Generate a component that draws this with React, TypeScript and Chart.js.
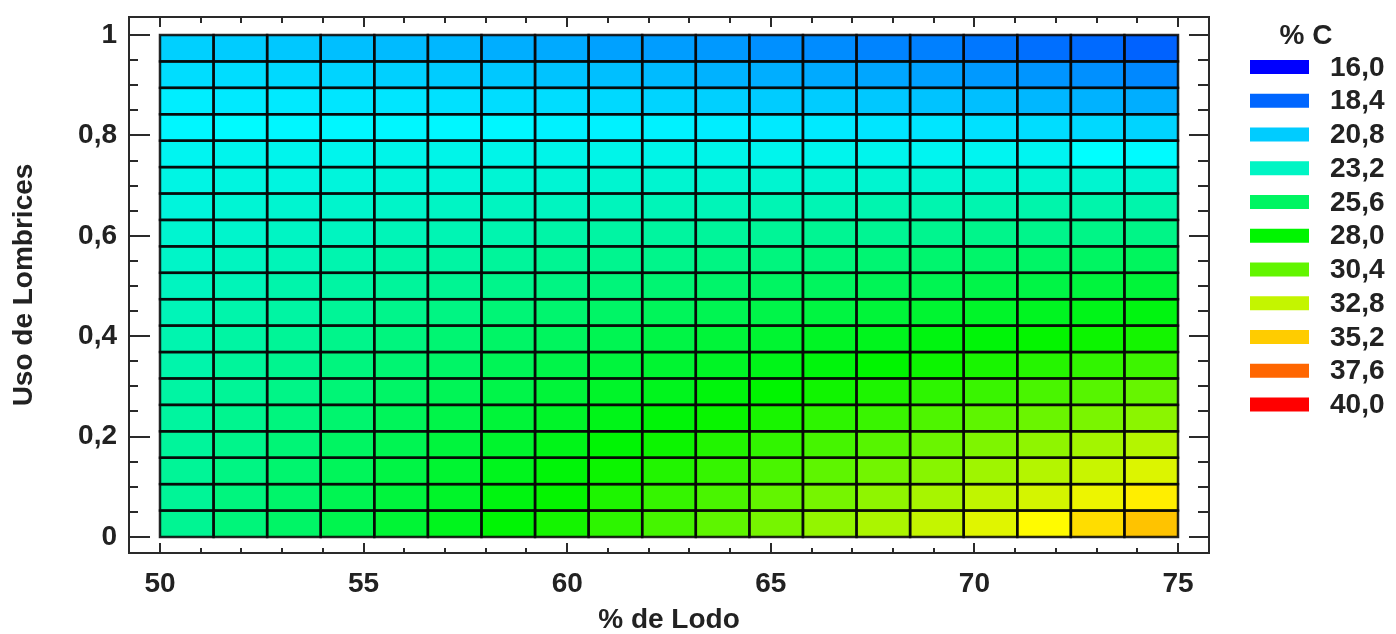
import React, { useEffect, useRef } from 'react';
import { Chart, registerables } from 'chart.js';

Chart.register(...registerables);

// % de Lodo: centres of the 19 columns of the grid (50 .. 75)
const lodoCenters = [50.658, 51.974, 53.289, 54.605, 55.921, 57.237, 58.553, 59.868, 61.184, 62.5, 63.816, 65.132, 66.447, 67.763, 69.079, 70.395, 71.711, 73.026, 74.342];
// Uso de Lombrices: centres of the 19 rows, top row first (0 .. 1)
const lombricesCenters = [0.9737, 0.9211, 0.8684, 0.8158, 0.7632, 0.7105, 0.6579, 0.6053, 0.5526, 0.5, 0.4474, 0.3947, 0.3421, 0.2895, 0.2368, 0.1842, 0.1316, 0.0789, 0.0263];

// %C per cell; one line per row (top row first), one value per column (left to right)
const row00 = [20.9, 20.8, 20.7, 20.5, 20.4, 20.3, 20.1, 20.0, 19.8, 19.7, 19.6, 19.4, 19.3, 19.1, 19.0, 18.8, 18.6, 18.5, 18.3];
const row01 = [21.2, 21.2, 21.1, 21.0, 20.9, 20.8, 20.7, 20.6, 20.5, 20.4, 20.2, 20.1, 20.0, 19.9, 19.8, 19.6, 19.5, 19.4, 19.2];
const row02 = [21.6, 21.5, 21.5, 21.4, 21.4, 21.3, 21.2, 21.2, 21.1, 21.0, 20.9, 20.8, 20.8, 20.7, 20.6, 20.5, 20.3, 20.2, 20.1];
const row03 = [21.8, 21.9, 21.8, 21.8, 21.8, 21.8, 21.8, 21.7, 21.7, 21.7, 21.6, 21.5, 21.5, 21.4, 21.4, 21.3, 21.2, 21.1, 21.0];
const row04 = [22.1, 22.2, 22.2, 22.2, 22.3, 22.3, 22.3, 22.3, 22.3, 22.3, 22.3, 22.2, 22.2, 22.2, 22.1, 22.1, 22.1, 22.0, 21.9];
const row05 = [22.4, 22.5, 22.5, 22.6, 22.7, 22.7, 22.8, 22.8, 22.9, 22.9, 22.9, 22.9, 22.9, 22.9, 22.9, 22.9, 22.9, 22.9, 22.9];
const row06 = [22.6, 22.8, 22.9, 23.0, 23.1, 23.2, 23.3, 23.3, 23.4, 23.5, 23.5, 23.6, 23.6, 23.7, 23.7, 23.7, 23.8, 23.8, 23.8];
const row07 = [22.9, 23.0, 23.2, 23.3, 23.5, 23.6, 23.7, 23.9, 24.0, 24.1, 24.2, 24.3, 24.4, 24.4, 24.5, 24.6, 24.6, 24.7, 24.7];
const row08 = [23.1, 23.3, 23.5, 23.7, 23.9, 24.0, 24.2, 24.4, 24.5, 24.6, 24.8, 24.9, 25.0, 25.2, 25.3, 25.4, 25.5, 25.6, 25.7];
const row09 = [23.3, 23.5, 23.8, 24.0, 24.2, 24.4, 24.6, 24.8, 25.0, 25.2, 25.4, 25.6, 25.7, 25.9, 26.0, 26.2, 26.3, 26.5, 26.6];
const row10 = [23.5, 23.8, 24.0, 24.3, 24.6, 24.8, 25.1, 25.3, 25.5, 25.8, 26.0, 26.2, 26.4, 26.6, 26.8, 27.0, 27.2, 27.4, 27.6];
const row11 = [23.7, 24.0, 24.3, 24.6, 24.9, 25.2, 25.5, 25.7, 26.0, 26.3, 26.6, 26.8, 27.1, 27.3, 27.6, 27.8, 28.1, 28.3, 28.5];
const row12 = [23.8, 24.2, 24.5, 24.9, 25.2, 25.5, 25.9, 26.2, 26.5, 26.8, 27.1, 27.4, 27.7, 28.0, 28.3, 28.6, 28.9, 29.2, 29.5];
const row13 = [24.0, 24.3, 24.7, 25.1, 25.5, 25.9, 26.2, 26.6, 27.0, 27.3, 27.7, 28.0, 28.4, 28.7, 29.1, 29.4, 29.8, 30.1, 30.5];
const row14 = [24.1, 24.5, 24.9, 25.3, 25.8, 26.2, 26.6, 27.0, 27.4, 27.8, 28.2, 28.6, 29.1, 29.4, 29.9, 30.3, 30.6, 31.0, 31.4];
const row15 = [24.2, 24.6, 25.1, 25.6, 26.0, 26.5, 26.9, 27.4, 27.9, 28.3, 28.8, 29.2, 29.7, 30.1, 30.6, 31.1, 31.5, 32.0, 32.4];
const row16 = [24.3, 24.8, 25.3, 25.8, 26.3, 26.8, 27.3, 27.8, 28.3, 28.8, 29.3, 29.8, 30.3, 30.8, 31.3, 31.9, 32.4, 32.9, 33.4];
const row17 = [24.3, 24.9, 25.4, 26.0, 26.5, 27.0, 27.6, 28.1, 28.7, 29.3, 29.8, 30.4, 30.9, 31.5, 32.1, 32.7, 33.2, 33.8, 34.4];
const row18 = [24.4, 25.0, 25.5, 26.1, 26.7, 27.3, 27.9, 28.5, 29.1, 29.7, 30.3, 30.9, 31.6, 32.2, 32.8, 33.5, 34.1, 34.8, 35.4];
const carbonRows = [row00, row01, row02, row03, row04, row05, row06, row07, row08, row09, row10, row11, row12, row13, row14, row15, row16, row17, row18];

// Legend levels of %C
const legendLevels = [16.0, 18.4, 20.8, 23.2, 25.6, 28.0, 30.4, 32.8, 35.2, 37.6, 40.0];
const legendTitle = '% C';

// Axis tick labels
const xTickValues = [50, 55, 60, 65, 70, 75];
const yTickValues = [0, 0.2, 0.4, 0.6, 0.8, 1];

const FONT = "'Liberation Sans', Arial, Helvetica, sans-serif";
const TEXT = '#222222';

const fmtComma = (v: number, digits: number) => v.toFixed(digits).replace('.', ',');

function colorFor(v: number): string {
  const lo = legendLevels[0];
  const hi = legendLevels[legendLevels.length - 1];
  let t = (v - lo) / (hi - lo);
  t = Math.max(0, Math.min(1, t));
  const hue = 240 * (1 - t);
  // greens in the reference are slightly less luminous than pure hues
  const light = hue > 60 && hue < 180 ? 48 : 50;
  return `hsl(${hue.toFixed(1)}, 100%, ${light}%)`;
}

const heatPlugin = {
  id: 'heatCells',
  beforeDatasetsDraw(chart: any) {
    const { ctx, scales } = chart;
    const xs = scales.x;
    const ys = scales.y;
    const hw = (lodoCenters[1] - lodoCenters[0]) / 2;
    const hh = (lombricesCenters[0] - lombricesCenters[1]) / 2;
    ctx.save();
    const rects: number[][] = [];
    carbonRows.forEach((row, r) => {
      row.forEach((v, c) => {
        const l = xs.getPixelForValue(lodoCenters[c] - hw);
        const rr = xs.getPixelForValue(lodoCenters[c] + hw);
        const t = ys.getPixelForValue(lombricesCenters[r] + hh);
        const b = ys.getPixelForValue(lombricesCenters[r] - hh);
        ctx.fillStyle = colorFor(v);
        ctx.fillRect(l, t, rr - l, b - t);
        rects.push([l, t, rr - l, b - t]);
      });
    });
    ctx.strokeStyle = 'rgba(8,8,8,0.88)';
    ctx.lineWidth = 2.5;
    rects.forEach(([l, t, w, h]) => ctx.strokeRect(l, t, w, h));
    ctx.restore();
  },
  afterDraw(chart: any) {
    const { ctx, chartArea, scales } = chart;
    const xs = scales.x;
    const ys = scales.y;
    ctx.save();
    // frame
    ctx.strokeStyle = '#2a2a2a';
    ctx.lineWidth = 2;
    ctx.strokeRect(chartArea.left, chartArea.top, chartArea.right - chartArea.left, chartArea.bottom - chartArea.top);
    // x ticks (bottom and top, pointing inward)
    for (let v = 50; v <= 75; v += 1) {
      const px = Math.round(xs.getPixelForValue(v));
      const major = v % 5 === 0;
      const lenB = major ? 10 : 5;
      const lenT = major ? 10 : 6;
      ctx.beginPath();
      ctx.moveTo(px, chartArea.bottom);
      ctx.lineTo(px, chartArea.bottom - lenB);
      ctx.moveTo(px, chartArea.top);
      ctx.lineTo(px, chartArea.top + lenT);
      ctx.stroke();
    }
    // y ticks (left and right, pointing inward)
    for (let k = 0; k <= 20; k++) {
      const v = k * 0.05;
      const py = Math.round(ys.getPixelForValue(v));
      const major = k % 4 === 0;
      const lenL = major ? 21 : 9;
      const lenR = major ? 20 : 11;
      ctx.beginPath();
      ctx.moveTo(chartArea.left, py);
      ctx.lineTo(chartArea.left + lenL, py);
      ctx.moveTo(chartArea.right, py);
      ctx.lineTo(chartArea.right - lenR, py);
      ctx.stroke();
    }
    // legend
    ctx.fillStyle = TEXT;
    ctx.font = `bold 28px ${FONT}`;
    ctx.textAlign = 'center';
    ctx.textBaseline = 'middle';
    ctx.fillText(legendTitle, 1306, 36);
    legendLevels.forEach((lv, k) => {
      const cy = 67 + 33.75 * k;
      ctx.fillStyle = colorFor(lv);
      ctx.fillRect(1250, cy - 7, 59, 14);
      ctx.fillStyle = TEXT;
      ctx.textAlign = 'left';
      ctx.fillText(fmtComma(lv, 1), 1330, cy + 1);
    });
    ctx.restore();
  },
};

export default function App() {
  const canvasRef = useRef<HTMLCanvasElement | null>(null);

  useEffect(() => {
    const canvas = canvasRef.current;
    if (!canvas) return;
    const points: { x: number; y: number; v: number }[] = [];
    carbonRows.forEach((row, r) => row.forEach((v, c) => points.push({ x: lodoCenters[c], y: lombricesCenters[r], v })));

    const chart = new Chart(canvas, {
      type: 'scatter',
      data: {
        datasets: [
          {
            label: '%C',
            data: points,
            pointRadius: 0,
            pointHoverRadius: 0,
            showLine: false,
          },
        ],
      },
      options: {
        animation: false,
        responsive: false,
        devicePixelRatio: 1,
        events: [],
        layout: { padding: { top: 17, right: 187, bottom: 0, left: 0 } },
        plugins: {
          legend: { display: false },
          tooltip: { enabled: false },
        },
        scales: {
          x: {
            type: 'linear',
            position: 'bottom',
            min: 49.239,
            max: 75.761,
            afterBuildTicks: (s: any) => {
              s.ticks = xTickValues.map((v) => ({ value: v }));
            },
            afterFit: (s: any) => {
              s.height = 81;
              s.paddingLeft = 0;
              s.paddingRight = 0;
            },
            grid: { display: false, drawTicks: false },
            border: { display: false },
            ticks: {
              autoSkip: false,
              maxRotation: 0,
              padding: 14,
              color: TEXT,
              font: { family: FONT, size: 28, weight: 'bold' },
              callback: (v: any) => String(v),
            },
            title: {
              display: true,
              text: '% de Lodo',
              color: TEXT,
              font: { family: FONT, size: 28, weight: 'bold', lineHeight: 1 },
              padding: { top: 0, bottom: 0 },
            },
          },
          y: {
            type: 'linear',
            position: 'left',
            min: -0.0319,
            max: 1.0359,
            afterBuildTicks: (s: any) => {
              s.ticks = yTickValues.map((v) => ({ value: v }));
            },
            afterFit: (s: any) => {
              s.width = 129;
              s.paddingTop = 0;
              s.paddingBottom = 0;
            },
            grid: { display: false, drawTicks: false },
            border: { display: false },
            ticks: {
              autoSkip: false,
              padding: 12,
              color: TEXT,
              font: { family: FONT, size: 28, weight: 'bold' },
              callback: (v: any) => (v === 0 || v === 1 ? String(v) : fmtComma(Number(v), 1)),
            },
            title: {
              display: true,
              text: 'Uso de Lombrices',
              color: TEXT,
              font: { family: FONT, size: 28, weight: 'bold', lineHeight: 1 },
              padding: { top: 10, bottom: 0 },
            },
          },
        },
      },
      plugins: [heatPlugin],
    } as any);

    return () => {
      chart.destroy();
    };
  }, []);

  return (
    <div style={{ position: 'fixed', left: 0, top: 0, width: 1396, height: 634, background: '#ffffff' }}>
      <canvas ref={canvasRef} width={1396} height={634} style={{ width: 1396, height: 634, display: 'block' }} />
    </div>
  );
}
